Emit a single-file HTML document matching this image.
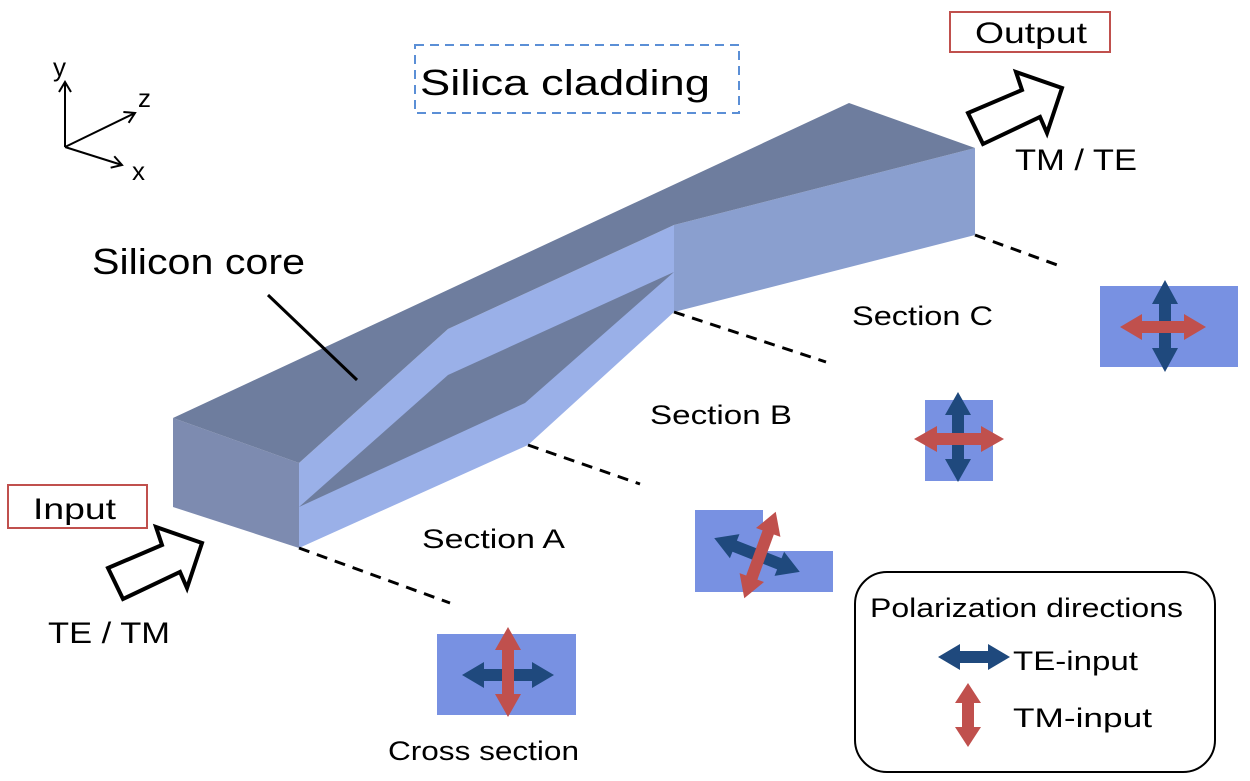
<!DOCTYPE html>
<html><head><meta charset="utf-8"><style>
html,body{margin:0;padding:0;background:#fff;}
svg{display:block;}
text{font-family:"Liberation Sans",sans-serif;fill:#000;}
</style></head><body>
<svg width="1250" height="781" viewBox="0 0 1250 781" xmlns="http://www.w3.org/2000/svg">
<defs>
<marker id="ah" markerWidth="14" markerHeight="14" refX="11" refY="7" orient="auto" markerUnits="userSpaceOnUse">
<path d="M1,1 L11,7 L1,13" fill="none" stroke="#000" stroke-width="2"/></marker>
</defs>
<!-- axes -->
<line x1="65" y1="147" x2="65" y2="82" stroke="#000" stroke-width="2" marker-end="url(#ah)"/>
<line x1="65" y1="147" x2="135" y2="113" stroke="#000" stroke-width="2" marker-end="url(#ah)"/>
<line x1="65" y1="147" x2="122" y2="165" stroke="#000" stroke-width="2" marker-end="url(#ah)"/>
<text x="53" y="76" font-size="26">y</text>
<text x="138" y="107" font-size="26">z</text>
<text x="132" y="180" font-size="26">x</text>

<!-- silica cladding -->
<rect x="415" y="45" width="324" height="68" fill="none" stroke="#5B8FD6" stroke-width="2" stroke-dasharray="9,6"/>
<text x="420" y="95" font-size="36" textLength="290" lengthAdjust="spacingAndGlyphs">Silica cladding</text>

<!-- waveguide -->
<polygon points="173,418 299,463 299,548 173,507" fill="#7D8BB0"/>
<polygon points="299,463 448,329 674,225 674,312 528,445 299,548" fill="#9AB0E8"/>
<polygon points="299,507 448,375 674,272 525,403" fill="#6E7D9E"/>
<polygon points="674,225 975,148 975,235 674,312" fill="#8A9FCF"/>
<polygon points="173,418 299,463 448,329 674,225 975,148 849,103" fill="#6E7D9E"/>

<!-- silicon core label -->
<text x="92" y="274" font-size="36" textLength="213" lengthAdjust="spacingAndGlyphs">Silicon core</text>
<line x1="268" y1="295" x2="357" y2="380" stroke="#000" stroke-width="3"/>

<!-- dashed leaders -->
<g stroke="#000" stroke-width="3" stroke-dasharray="11,8">
<line x1="299" y1="548" x2="450" y2="603"/>
<line x1="528" y1="445" x2="640" y2="484"/>
<line x1="674" y1="312" x2="826" y2="362"/>
<line x1="975" y1="235" x2="1060" y2="266"/>
</g>

<!-- input/output -->
<rect x="8" y="485" width="139" height="43" fill="#fff" stroke="#C0504D" stroke-width="2"/>
<text x="33" y="519" font-size="30" textLength="83" lengthAdjust="spacingAndGlyphs">Input</text>
<rect x="950" y="12" width="160" height="40" fill="#fff" stroke="#C0504D" stroke-width="2"/>
<text x="975" y="43" font-size="30" textLength="112" lengthAdjust="spacingAndGlyphs">Output</text>
<polygon points="108,568 162,545 156,527 202,543 187,588 180,572 123,599" fill="#fff" stroke="#000" stroke-width="4" stroke-linejoin="miter"/>
<polygon points="108,568 162,545 156,527 202,543 187,588 180,572 123,599" fill="#fff" stroke="#000" stroke-width="4" transform="translate(860,-455)"/>
<text x="1015" y="170" font-size="30" textLength="122" lengthAdjust="spacingAndGlyphs">TM / TE</text>
<text x="48" y="643" font-size="30" textLength="122" lengthAdjust="spacingAndGlyphs">TE / TM</text>

<!-- section labels -->
<g font-size="27">
<text x="852" y="325" textLength="141" lengthAdjust="spacingAndGlyphs">Section  C</text>
<text x="650" y="424" textLength="142" lengthAdjust="spacingAndGlyphs">Section  B</text>
<text x="422" y="548" textLength="143" lengthAdjust="spacingAndGlyphs">Section  A</text>
<text x="388" y="760" textLength="191" lengthAdjust="spacingAndGlyphs">Cross  section</text>
</g>

<!-- cross section -->
<rect x="437" y="634" width="139" height="81" fill="#7891E2"/>
<g transform="translate(508,675)"><polygon points="-46,0 -24,-13 -24,-6 24,-6 24,-13 46,0 24,13 24,6 -24,6 -24,13" fill="#1F497D"/></g>
<g transform="translate(508,672) rotate(90)"><polygon points="-45,0 -22,-13 -22,-6 22,-6 22,-13 45,0 22,13 22,6 -22,6 -22,13" fill="#C0504D"/></g>

<!-- section A -->
<rect x="695" y="510" width="68" height="82" fill="#7891E2"/>
<rect x="762" y="551" width="71" height="41" fill="#7891E2"/>
<g transform="translate(757,555) rotate(21.6)"><polygon points="-46,0 -24,-13 -24,-6 24,-6 24,-13 46,0 24,13 24,6 -24,6 -24,13" fill="#1F497D"/></g>
<g transform="translate(760,555) rotate(-70)"><polygon points="-46,0 -24,-13 -24,-6 24,-6 24,-13 46,0 24,13 24,6 -24,6 -24,13" fill="#C0504D"/></g>

<!-- section B -->
<rect x="925" y="400" width="68" height="81" fill="#7891E2"/>
<g transform="translate(958,437) rotate(90)"><polygon points="-45,0 -22,-13 -22,-6 22,-6 22,-13 45,0 22,13 22,6 -22,6 -22,13" fill="#1F497D"/></g>
<g transform="translate(959,439)"><polygon points="-45,0 -22,-13 -22,-6 22,-6 22,-13 45,0 22,13 22,6 -22,6 -22,13" fill="#C0504D"/></g>

<!-- section C -->
<rect x="1100" y="286" width="138" height="81" fill="#7891E2"/>
<g transform="translate(1165,326) rotate(90)"><polygon points="-46,0 -22,-13 -22,-6 22,-6 22,-13 46,0 22,13 22,6 -22,6 -22,13" fill="#1F497D"/></g>
<g transform="translate(1163,327)"><polygon points="-43,0 -21,-13 -21,-6 21,-6 21,-13 43,0 21,13 21,6 -21,6 -21,13" fill="#C0504D"/></g>

<!-- legend -->
<rect x="855" y="572" width="360" height="200" rx="32" ry="32" fill="#fff" stroke="#000" stroke-width="2"/>
<text x="870" y="617" font-size="27" textLength="313" lengthAdjust="spacingAndGlyphs">Polarization directions</text>
<g transform="translate(974,657)"><polygon points="-36,0 -14,-13 -14,-6 14,-6 14,-13 36,0 14,13 14,6 -14,6 -14,13" fill="#1F497D"/></g>
<g transform="translate(968,715) rotate(90)"><polygon points="-32,0 -12,-13 -12,-6 12,-6 12,-13 32,0 12,13 12,6 -12,6 -12,13" fill="#C0504D"/></g>
<text x="1013" y="670" font-size="27" textLength="125" lengthAdjust="spacingAndGlyphs">TE-input</text>
<text x="1013" y="727" font-size="27" textLength="139" lengthAdjust="spacingAndGlyphs">TM-input</text>
</svg>
</body></html>
